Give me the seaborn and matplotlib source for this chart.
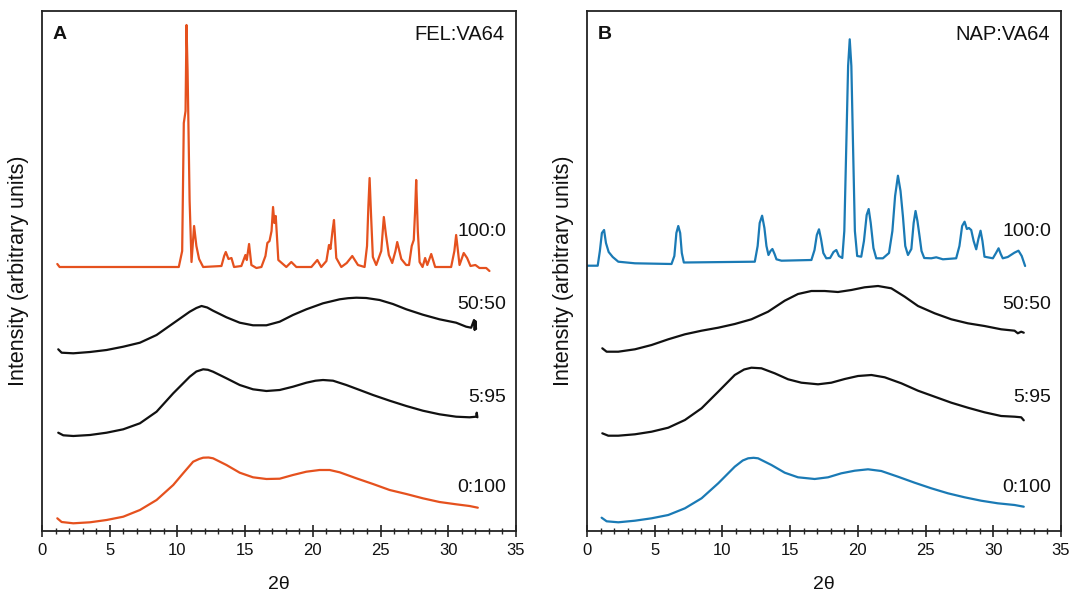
import numpy as np
import pandas as pd
import matplotlib
matplotlib.use("Agg")
import matplotlib.pyplot as plt
from matplotlib.ticker import MultipleLocator, NullLocator
import seaborn as sns

# ---------------- data (2-theta, intensity in arbitrary units) ----------------
panel_titles = ["FEL:VA64", "NAP:VA64"]
panel_letters = ["A", "B"]
ratio_labels = ["100:0", "50:50", "5:95", "0:100"]

# Panel A: FEL:VA64
fel_100_x = [1.13, 1.3, 4.0, 8.0, 10.1, 10.35, 10.47, 10.6, 10.67, 10.75, 10.9, 11.04, 11.23, 11.4, 11.6, 11.9,
             13.25, 13.45, 13.57, 13.77, 13.99, 14.18, 14.72, 15.02, 15.12, 15.29, 15.46, 15.83, 16.2,
             16.5, 16.64, 16.8, 16.95, 17.06, 17.16, 17.26, 17.45, 18.04, 18.41, 18.78, 19.89, 20.33, 20.62,
             21.0, 21.19, 21.3, 21.45, 21.56, 21.73, 22.1, 22.5, 22.91, 23.33, 23.82, 24.0, 24.1, 24.19, 24.3,
             24.43, 24.68, 25.05, 25.24, 25.4, 25.61, 25.86, 26.1, 26.23, 26.53, 26.89, 27.1, 27.3, 27.45, 27.55,
             27.63, 27.75, 27.88, 28.1, 28.29, 28.45, 28.74, 29.03, 30.21, 30.45, 30.58, 30.83, 31.14, 31.39,
             31.64, 32.0, 32.3, 32.8, 33.04]
fel_100_y = [267, 264, 264, 264, 264, 280, 408, 420, 506, 460, 330, 269, 305, 285, 272, 264,
             265, 275, 279, 272, 273, 264, 265, 276, 271, 287, 266, 263, 264,
             275, 288, 290, 300, 324, 308, 315, 271, 264, 269, 264, 264, 271, 264,
             270, 286, 282, 300, 311, 273, 264, 268, 275, 266, 264, 285, 325, 353, 315,
             274, 266, 280, 314, 296, 276, 268, 280, 289, 272, 266, 266, 285, 291, 320,
             351, 300, 269, 264, 273, 266, 277, 264, 264, 280, 296, 266, 278, 273,
             265, 266, 263, 263, 260]

fel_50_x = [1.2, 1.45, 2.31, 3.54, 4.77, 6.0, 7.23, 8.46, 9.69, 10.91, 11.4, 11.78, 12.2, 12.63, 13.62, 14.6, 15.58,
            16.57, 17.55, 18.53, 19.52, 20.75, 21.98, 22.6, 23.21, 23.94, 24.93, 25.91, 26.9, 28.12, 29.35,
            30.58, 31.32, 31.69, 31.9, 31.95, 32.0, 32.05]
fel_50_y = [181.7, 178.3, 177.7, 179, 181, 184.3, 188.3, 196, 207.7, 219.3, 223, 225, 223.5, 220.3, 213.7, 208.3, 205.7,
            205.7, 209.3, 216, 221.7, 227.7, 231.7, 232.8, 233.3, 233, 231, 227, 221.7, 216.3, 211.7,
            208.3, 204.3, 203.3, 211, 201, 210, 202]

fel_595_x = [1.2, 1.57, 2.31, 3.54, 4.77, 6.0, 7.23, 8.46, 9.69, 10.91, 11.4, 11.9, 12.25, 12.63, 13.62, 14.6, 15.58,
             16.57, 17.55, 18.53, 19.52, 20.2, 20.75, 21.49, 22.47, 23.46, 24.44, 25.67, 26.9, 28.12, 29.35,
             30.58, 31.57, 32.06, 32.1, 32.15]
fel_595_y = [98.3, 95.7, 95, 96, 98.3, 101.7, 107.7, 119.3, 137.7, 154.3, 159.5, 161.7, 161.2, 159.3, 152.7, 146, 141.7,
             140, 141, 144.3, 148.3, 150.3, 151, 150.3, 146, 141, 136, 130.3, 125, 120.3, 116.7,
             114.3, 113.7, 114.3, 118.3, 113.7]

fel_0_x = [1.13, 1.45, 2.31, 3.54, 4.77, 6.0, 7.23, 8.46, 9.69, 10.42, 11.16, 11.6, 11.9, 12.3, 12.63, 13.62, 14.6,
           15.58, 16.57, 17.55, 18.53, 19.52, 20.5, 21.24, 21.98, 23.21, 24.44, 25.67, 26.9, 28.12,
           29.35, 30.58, 31.57, 32.18]
fel_0_y = [12.7, 9, 7.7, 8.7, 11, 14.3, 21, 31, 46, 57.7, 69.3, 72, 73.3, 73.5, 72.7, 66, 58.3,
           53.7, 52, 52.3, 56, 59.3, 61, 61, 58.7, 52.7, 47, 41, 37, 32.7,
           29, 26.7, 25, 23.3]

# Panel B: NAP:VA64
nap_100_x = [0.0, 0.79, 0.95, 1.1, 1.26, 1.4, 1.6, 1.9, 2.31, 3.54, 6.24, 6.45, 6.6, 6.74, 6.88, 7.0, 7.15, 8.46,
             12.39, 12.6, 12.75, 12.93, 13.1, 13.25, 13.4, 13.55, 13.69, 13.85, 13.99, 14.36, 16.57, 16.8,
             16.97, 17.13, 17.28, 17.45, 17.67, 17.95, 18.2, 18.41, 18.6, 18.85, 19.0, 19.15, 19.28, 19.4,
             19.52, 19.64, 19.78, 19.95, 20.25, 20.45, 20.65, 20.8, 20.95, 21.15, 21.36, 21.85, 22.3, 22.55,
             22.75, 22.96, 23.15, 23.33, 23.5, 23.7, 23.95, 24.12, 24.26, 24.4, 24.56, 24.7, 24.9, 25.42,
             25.79, 26.28, 27.26, 27.5, 27.7, 27.88, 28.05, 28.2, 28.37, 28.55, 28.74, 28.9, 29.06, 29.2,
             29.35, 29.97, 30.2, 30.39, 30.55, 30.7, 31.07, 31.56, 31.86, 32.1, 32.35]
nap_100_y = [265.3, 265.3, 280, 298, 301, 288, 279, 274, 269.3, 267.7, 267, 275, 298, 305, 298, 278, 268.5, 268.7,
             269.3, 285, 308, 315.3, 303, 285, 276, 280, 282, 277, 271.7, 270.3, 271, 281,
             296, 301.7, 292, 278, 272.7, 273, 279, 281, 275, 273, 300, 387.7, 465, 491.7,
             465, 387.7, 300, 275, 274.3, 290, 316, 322, 308, 283, 272.7, 272.7, 278, 300,
             335, 355.3, 340, 314.3, 285, 276, 282, 308, 320, 310, 294.3, 280, 273, 272.7,
             273.7, 271.7, 272.7, 285, 305, 309.3, 302, 303, 301, 290, 281.7, 292, 300.3, 290,
             274.3, 272.7, 278, 282.7, 277, 272.7, 274, 278.3, 280.3, 275, 265]

nap_50_x = [1.13, 1.45, 2.31, 3.54, 4.77, 6.0, 7.23, 8.46, 9.69, 10.91, 12.14, 13.37, 14.6, 15.58,
            16.57, 17.55, 18.53, 19.52, 20.5, 21.49, 22.47, 23.46, 24.44, 25.67, 26.9, 28.12, 29.35,
            30.58, 31.57, 31.81, 32.06, 32.25]
nap_50_y = [182.7, 179.3, 179.3, 181.7, 186, 191.7, 196.7, 200.3, 203.3, 207, 211.7, 219.3, 230.3, 237,
            240, 240, 239, 241, 243.7, 245, 242.7, 234.3, 225, 217.7, 211.7, 207.7, 205,
            201.7, 200.3, 197.7, 199.3, 198.3]

nap_595_x = [1.13, 1.57, 2.31, 3.54, 4.77, 6.0, 7.23, 8.46, 9.69, 10.91, 11.6, 12.14, 12.88, 13.86, 14.85,
             15.83, 17.06, 18.04, 19.03, 20.01, 21.0, 21.98, 23.21, 24.44, 25.67, 26.9, 28.12, 29.35,
             30.58, 31.57, 32.06, 32.25]
nap_595_y = [97.7, 95.3, 95.3, 96.7, 99.3, 103.3, 111, 122.7, 139.3, 156, 161.5, 163.3, 162.7, 157.7, 151.7,
             148.3, 146.7, 148.3, 152, 155, 156, 153.7, 147.7, 140.3, 134.3, 128.3, 123.3, 118.7,
             115, 114.3, 113.7, 110.7]

nap_0_x = [1.08, 1.45, 2.31, 3.54, 4.77, 6.0, 7.23, 8.46, 9.69, 10.91, 11.5, 11.9, 12.3, 12.63, 13.62, 14.6,
           15.58, 16.81, 17.8, 18.78, 19.77, 20.75, 21.73, 22.96, 24.19, 25.42, 26.65, 27.88, 29.1,
           30.33, 31.57, 32.25]
nap_0_y = [13.3, 9.7, 8.7, 10.3, 12.7, 16, 22.7, 32.7, 47.7, 64.3, 70.5, 72.7, 73.2, 72.7, 66, 58.3,
           53.7, 52, 53.7, 57.7, 60.3, 61.7, 60, 54.3, 48.3, 42.7, 37.7, 33.7, 30.3,
           27.7, 26, 24.3]

# label anchor heights (same arbitrary intensity units)
label_heights = [299, 226, 133, 44]

orange = "#E5511E"
blue = "#1A7AB5"
black = "#111111"

# ---------------- plotting ----------------
sns.set_theme(style="white")
plt.rcParams["font.family"] = ["Liberation Sans", "DejaVu Sans"]

fig = plt.figure(figsize=(10.70, 5.93), dpi=100)
axA = fig.add_axes([42 / 1070, 1 - 531 / 593, 474 / 1070, 520 / 593])
axB = fig.add_axes([587 / 1070, 1 - 531 / 593, 474 / 1070, 520 / 593])

panels = [
    (axA, orange, [(fel_100_x, fel_100_y), (fel_50_x, fel_50_y), (fel_595_x, fel_595_y), (fel_0_x, fel_0_y)]),
    (axB, blue, [(nap_100_x, nap_100_y), (nap_50_x, nap_50_y), (nap_595_x, nap_595_y), (nap_0_x, nap_0_y)]),
]

for i, (ax, col, series) in enumerate(panels):
    colors = [col, black, black, col]
    for (xs, ys), c, lab in zip(series, colors, ratio_labels):
        df = pd.DataFrame({"two_theta": xs, "intensity": ys})
        sns.lineplot(data=df, x="two_theta", y="intensity", ax=ax, color=c,
                     linewidth=1.6, estimator=None, sort=False)
    for lab, h in zip(ratio_labels, label_heights):
        ax.text(34.3, h, lab, ha="right", va="center", fontsize=14, color="#111111")
    ax.text(0.976, 0.955, panel_titles[i], transform=ax.transAxes, ha="right", va="center",
            fontsize=14.5, color="#111111")
    ax.text(0.022, 0.955, panel_letters[i], transform=ax.transAxes, ha="left", va="center",
            fontsize=14, fontweight="bold", color="#111111")

    ax.set_xlim(0, 35)
    ax.set_ylim(0, 520)
    ax.xaxis.set_major_locator(MultipleLocator(5))
    ax.xaxis.set_minor_locator(MultipleLocator(1))
    ax.yaxis.set_major_locator(NullLocator())
    ax.tick_params(axis="x", which="major", direction="inout", length=9, width=1.1,
                   bottom=True, top=False, labelsize=12, pad=4, colors="#111111")
    ax.tick_params(axis="x", which="minor", direction="inout", length=5, width=1.0,
                   bottom=True, top=False)
    ax.tick_params(axis="y", left=False, right=False)
    for sp in ax.spines.values():
        sp.set_visible(True)
        sp.set_color("#222222")
        sp.set_linewidth(1.3)
    ax.set_xlabel("2θ", fontsize=14, labelpad=13, color="#111111")
    ax.set_ylabel("Intensity (arbitrary units)", fontsize=15.5, labelpad=9, color="#111111")

fig.savefig("out.png", dpi=100)
